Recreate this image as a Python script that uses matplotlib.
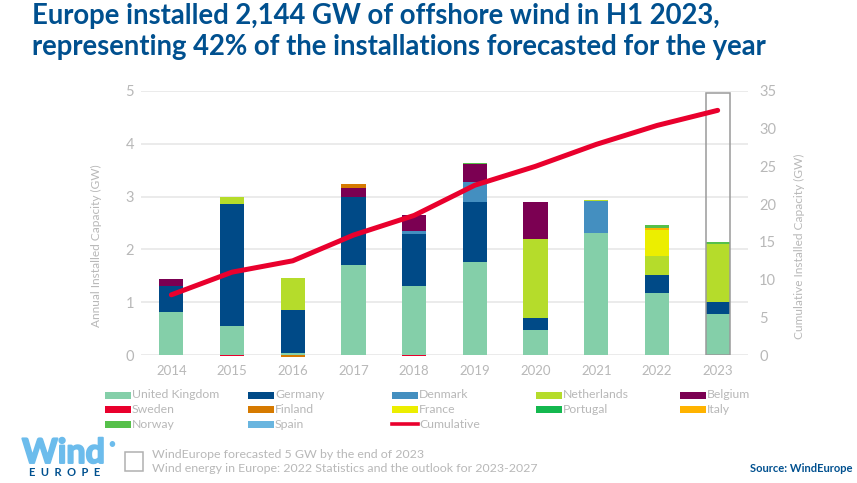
#!/usr/bin/env python3
"""Offshore wind installations in Europe, annual by country plus cumulative."""

import matplotlib
matplotlib.use("Agg")
import matplotlib.pyplot as plt
import matplotlib.patheffects as pe
from matplotlib.patches import Rectangle
import numpy as np

W, H = 857, 483

years = ["2014", "2015", "2016", "2017", "2018", "2019", "2020", "2021", "2022", "2023"]

united_kingdom = [0.81, 0.56, 0.04, 1.71, 1.31, 1.76, 0.48, 2.32, 1.18, 0.78]
germany = [0.50, 2.30, 0.81, 1.29, 0.98, 1.13, 0.22, 0.00, 0.34, 0.23]
denmark = [0.00, 0.00, 0.01, 0.00, 0.06, 0.38, 0.00, 0.59, 0.00, 0.00]
netherlands = [0.00, 0.13, 0.61, 0.00, 0.00, 0.00, 1.49, 0.03, 0.36, 1.10]
belgium = [0.13, 0.00, 0.00, 0.16, 0.31, 0.35, 0.71, 0.00, 0.00, 0.00]
sweden = [0.00, -0.02, 0.00, 0.00, -0.02, 0.00, 0.00, 0.00, 0.00, 0.00]
finland = [0.00, 0.00, -0.03, 0.07, 0.00, 0.00, 0.00, 0.00, 0.00, 0.00]
france = [0.00, 0.00, 0.00, 0.00, 0.00, 0.00, 0.00, 0.00, 0.49, 0.00]
portugal = [0.00, 0.00, 0.00, 0.00, 0.00, 0.00, 0.00, 0.00, 0.00, 0.00]
italy = [0.00, 0.00, 0.00, 0.00, 0.00, 0.00, 0.00, 0.00, 0.03, 0.00]
norway = [0.00, 0.00, 0.00, 0.00, 0.00, 0.02, 0.00, 0.00, 0.06, 0.03]
spain = [0.00, 0.00, 0.00, 0.00, 0.00, 0.00, 0.00, 0.00, 0.00, 0.00]

cumulative = [8.0, 11.0, 12.5, 15.9, 18.5, 22.5, 25.0, 27.9, 30.4, 32.4]
forecast_2023 = 4.95

countries = [
    ("United Kingdom", united_kingdom, "#84cfa9"),
    ("Germany", germany, "#004a87"),
    ("Denmark", denmark, "#448fc0"),
    ("Netherlands", netherlands, "#b5dc2b"),
    ("Belgium", belgium, "#7b0052"),
    ("Sweden", sweden, "#e9002d"),
    ("Finland", finland, "#d67a00"),
    ("France", france, "#ecee00"),
    ("Portugal", portugal, "#14b84f"),
    ("Italy", italy, "#ffb300"),
    ("Norway", norway, "#56c04a"),
    ("Spain", spain, "#69b5df"),
]

GREY = "#b8b8b8"
BLUE = "#00508f"
LOGO_BLUE = "#6cbcec"
plt.rcParams["font.family"] = ["Lato", "DejaVu Sans"]

fig = plt.figure(figsize=(W / 100, H / 100), dpi=100)


def fx(px):
    return px / W


def fy(py):
    return 1 - py / H


left, right, top, bottom = 141, 748, 90.7, 355.3
ax = fig.add_axes([fx(left), fy(bottom), fx(right - left), (bottom - top) / H])
ax2 = ax.twinx()

x = np.arange(len(years))
pos = np.zeros(len(years))
neg = np.zeros(len(years))
for name, vals, color in countries:
    vals = np.asarray(vals)
    base = np.where(vals >= 0, pos, neg)
    keep = vals != 0  # zero-height bars still leave a snapped line
    ax.bar(x[keep], vals[keep], 0.4, bottom=base[keep], color=color, lw=0, zorder=3, clip_on=False)
    pos += np.clip(vals, 0, None)
    neg += np.clip(vals, None, 0)

ax.bar(x[-1], forecast_2023, 0.4, facecolor="none", edgecolor="#9a9a9a", lw=1.1, zorder=4)

ax2.plot(x, cumulative, color="#e9002d", lw=3.6, solid_capstyle="round", zorder=5)

ax.set_xlim(-0.5, 9.5)
ax.set_ylim(0, 5)
ax2.set_ylim(0, 35)
ax.set_xticks(x, years)
ax.set_yticks(range(6))
ax2.set_yticks(range(0, 40, 5))
ax.grid(axis="y", color="#e8e8e8", lw=1.2, zorder=0)
ax.set_axisbelow(True)
ax.tick_params(axis="x", length=0, pad=7, labelsize=9.5, labelcolor=GREY)
ax.tick_params(axis="y", length=0, pad=5, labelsize=10.5, labelcolor=GREY)
ax2.tick_params(axis="y", length=0, pad=8, labelsize=10.5, labelcolor=GREY)
for a in (ax, ax2):
    for s in a.spines.values():
        s.set_visible(False)
ax2.patch.set_visible(False)

fig.text(fx(96), fy(246), "Annual Installed Capacity (GW)", rotation=90, color=GREY,
         fontsize=8.6, ha="center", va="center")
fig.text(fx(799), fy(246), "Cumulative Installed Capacity (GW)", rotation=90, color=GREY,
         fontsize=8.6, ha="center", va="center")

fig.text(fx(32), fy(16), "Europe installed 2,144 GW of offshore wind in H1 2023,",
         color=BLUE, fontsize=19.85, weight="bold", ha="left", va="center")
fig.text(fx(32), fy(47), "representing 42% of the installations forecasted for the year",
         color=BLUE, fontsize=19.85, weight="bold", ha="left", va="center")

# legend, laid out by hand in five columns
col_x = [105, 248, 392, 536, 680]
row_y = [395, 409.5, 424]
for i, (name, vals, color) in enumerate(countries):
    cx, cy = col_x[i % 5], row_y[i // 5]
    fig.add_artist(Rectangle((fx(cx), fy(cy + 3.5)), 26 / W, 7 / H, color=color, lw=0))
    fig.text(fx(cx + 27), fy(cy), name, color=GREY, fontsize=8.8, ha="left", va="center")
cx, cy = col_x[2], row_y[2]
fig.add_artist(plt.Line2D([fx(cx), fx(cx + 26)], [fy(cy), fy(cy)], color="#e9002d", lw=2.6))
fig.text(fx(cx + 27), fy(cy), "Cumulative", color=GREY, fontsize=8.8, ha="left", va="center")

# forecast key
fig.add_artist(Rectangle((fx(125), fy(471)), 18 / W, 19 / H, facecolor="none",
                         edgecolor="#b0b0b0", lw=1.1))
fig.text(fx(152), fy(455), "WindEurope forecasted 5 GW by the end of 2023",
         color=GREY, fontsize=8.95, ha="left", va="center")
fig.text(fx(152), fy(468), "Wind energy in Europe: 2022 Statistics and the outlook for 2023-2027",
         color=GREY, fontsize=8.95, ha="left", va="center")
fig.text(fx(852), fy(468), "Source: WindEurope", color=BLUE, fontsize=8, weight="bold",
         ha="right", va="center")

# logo
fig.text(fx(22), fy(453), "Wind", color=LOGO_BLUE, fontsize=24.5, weight="bold",
         ha="left", va="center",
         path_effects=[pe.withStroke(linewidth=1.4, foreground=LOGO_BLUE)])
fig.text(fx(112), fy(445), "•", color=LOGO_BLUE, fontsize=11, ha="center", va="center")
fig.text(fx(65), fy(473), "E  U  R  O  P  E", color=BLUE, fontsize=8, weight="bold",
         ha="center", va="center")

fig.savefig("out.png", dpi=100)
